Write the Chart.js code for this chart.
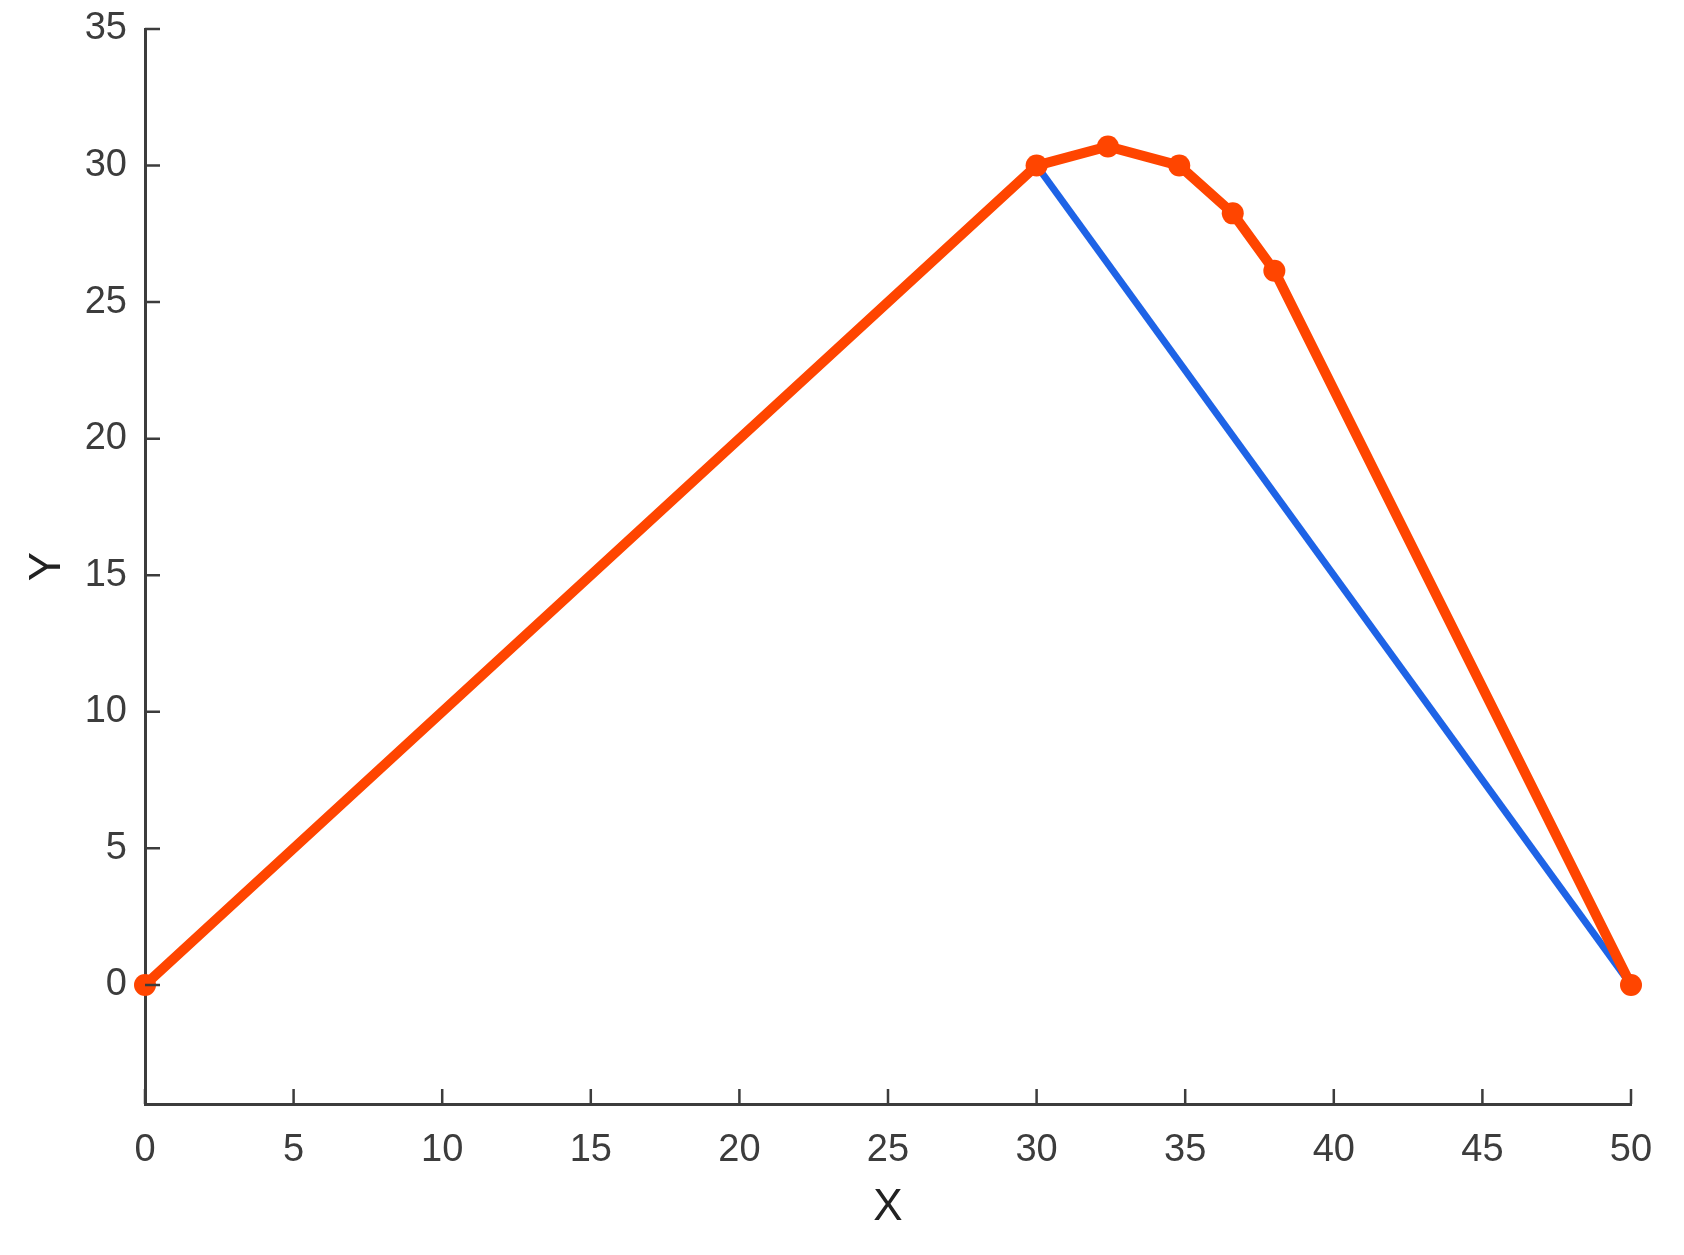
<!DOCTYPE html>
<html>
<head>
<meta charset="utf-8">
<script src="https://cdn.jsdelivr.net/npm/chart.js@4"></script>
<style>
  html, body { margin: 0; padding: 0; background: #fff; }
  canvas { display: block; }
</style>
</head>
<body>
<canvas id="plot" width="1684" height="1255"></canvas>
<script>
// path with the bulge (orange) and straight line (blue)
const curveX = [0, 30, 32.4, 34.8, 36.6, 38, 50];
const curveY = [0, 30, 30.7, 30.0, 28.25, 26.15, 0];
const lineX = [30, 50];
const lineY = [30, 0];

const xTickValues = [0, 5, 10, 15, 20, 25, 30, 35, 40, 45, 50];
const yTickValues = [0, 5, 10, 15, 20, 25, 30, 35];

const axisColor = '#3c3c3c';
const fontFamily = '"Liberation Sans", Arial, sans-serif';

function toPoints(xs, ys) {
    return xs.map((x, i) => ({ x: x, y: ys[i] }));
}

// short tick marks on the inside of the axes
const innerTicks = {
    id: 'innerTicks',
    afterDraw(chart) {
        const ctx = chart.ctx;
        const area = chart.chartArea;
        const len = 15;
        ctx.save();
        ctx.strokeStyle = axisColor;
        ctx.lineWidth = 2.5;
        ctx.beginPath();
        chart.scales.x.ticks.forEach(t => {
            const px = chart.scales.x.getPixelForValue(t.value);
            ctx.moveTo(px, area.bottom);
            ctx.lineTo(px, area.bottom - len);
        });
        chart.scales.y.ticks.forEach(t => {
            const py = chart.scales.y.getPixelForValue(t.value);
            ctx.moveTo(area.left, py);
            ctx.lineTo(area.left + len, py);
        });
        ctx.stroke();
        ctx.restore();
    }
};

new Chart(document.getElementById('plot').getContext('2d'), {
    type: 'scatter',
    data: {
        datasets: [
            {
                data: toPoints(curveX, curveY),
                showLine: true,
                borderColor: '#FF4500',
                backgroundColor: '#FF4500',
                borderWidth: 10,
                pointRadius: 11,
                pointBorderWidth: 0,
                clip: false
            },
            {
                data: toPoints(lineX, lineY),
                showLine: true,
                borderColor: '#1E63E6',
                borderWidth: 7,
                pointRadius: 0,
                clip: false
            }
        ]
    },
    options: {
        responsive: false,
        devicePixelRatio: 1,
        animation: false,
        layout: { padding: { top: 29, right: 53, left: 0, bottom: 0 } },
        plugins: {
            legend: { display: false },
            tooltip: { enabled: false }
        },
        scales: {
            x: {
                type: 'linear',
                min: 0,
                max: 50,
                afterBuildTicks: s => { s.ticks = xTickValues.map(v => ({ value: v })); },
                afterFit: s => { s.height = 151; s.paddingLeft = 0; s.paddingRight = 0; },
                grid: { display: false, drawTicks: false },
                border: { display: true, color: axisColor, width: 3 },
                ticks: {
                    color: axisColor,
                    padding: 24,
                    maxRotation: 0,
                    font: { family: fontFamily, size: 38 }
                },
                title: {
                    display: true,
                    text: 'X',
                    color: '#222',
                    padding: { top: 0, bottom: 21 },
                    font: { family: fontFamily, size: 44 }
                }
            },
            y: {
                type: 'linear',
                min: -4.36,
                max: 35,
                afterBuildTicks: s => { s.ticks = yTickValues.map(v => ({ value: v })); },
                afterFit: s => { s.width = 145; s.paddingTop = 0; s.paddingBottom = 0; },
                grid: { display: false, drawTicks: false },
                border: { display: true, color: axisColor, width: 3 },
                ticks: {
                    color: axisColor,
                    padding: 18,
                    font: { family: fontFamily, size: 38 }
                },
                title: {
                    display: true,
                    text: 'Y',
                    color: '#222',
                    padding: { top: 21, bottom: 0 },
                    font: { family: fontFamily, size: 44 }
                }
            }
        }
    },
    plugins: [innerTicks]
});
</script>
</body>
</html>
